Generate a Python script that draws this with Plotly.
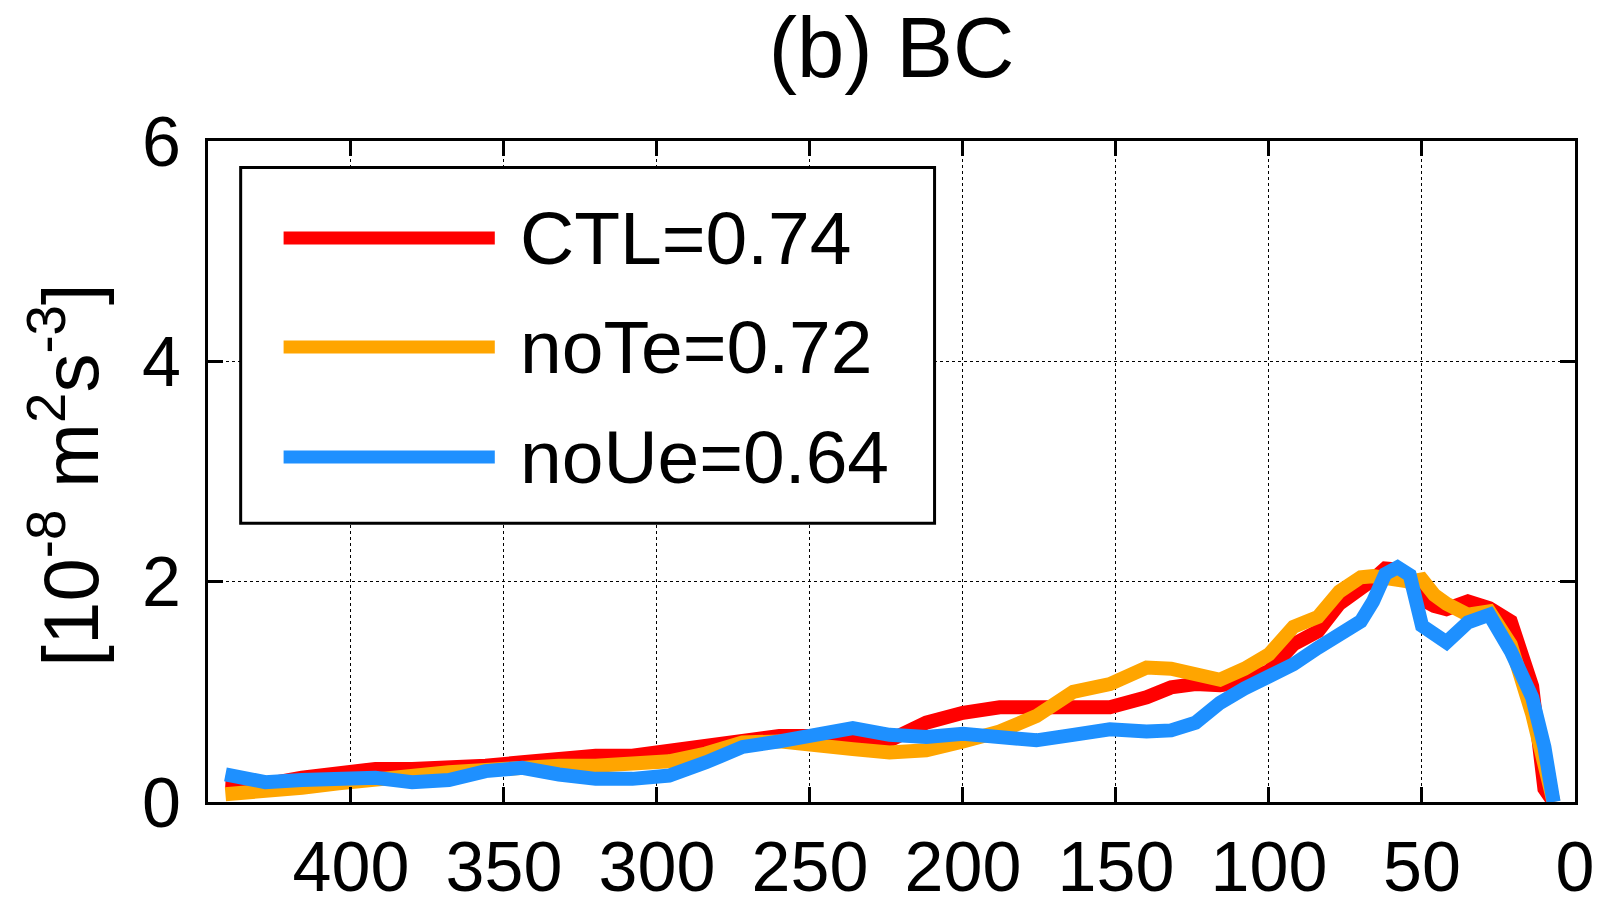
import plotly.graph_objects as go

# distance coordinate (axis runs from large to small, left to right)
dist = [441, 428, 416, 404, 392, 380, 368, 356, 344, 332, 320, 308, 296, 284,
        272, 260, 248, 236, 224, 212, 200, 188, 176, 164, 152, 140, 132, 124,
        116, 108, 100, 92, 84, 77, 70, 66, 62, 58, 54, 50, 46, 42, 35, 28, 21,
        14, 10, 7]

ctl = [0.18, 0.16, 0.22, 0.27, 0.30, 0.30, 0.30, 0.33, 0.36, 0.40, 0.42, 0.42,
       0.46, 0.52, 0.57, 0.60, 0.60, 0.58, 0.56, 0.72, 0.81, 0.86, 0.86, 0.83,
       0.86, 0.95, 1.04, 1.07, 1.06, 1.09, 1.19, 1.43, 1.55, 1.80, 1.92, 2.02,
       2.12, 2.11, 2.00, 1.84, 1.78, 1.75, 1.82, 1.76, 1.64, 1.05, 0.12, 0.0]

note = [0.07, 0.09, 0.13, 0.17, 0.21, 0.25, 0.27, 0.29, 0.32, 0.33, 0.33, 0.35,
        0.37, 0.44, 0.54, 0.55, 0.50, 0.48, 0.45, 0.47, 0.55, 0.64, 0.78, 1.00,
        1.07, 1.22, 1.21, 1.16, 1.11, 1.21, 1.34, 1.59, 1.68, 1.91, 2.04, 2.05,
        2.03, 2.00, 2.00, 2.02, 1.88, 1.80, 1.70, 1.73, 1.43, 0.80, 0.34, 0.0]

noue = [0.25, 0.18, 0.20, 0.22, 0.22, 0.18, 0.20, 0.28, 0.31, 0.25, 0.21, 0.21,
        0.24, 0.36, 0.50, 0.55, 0.62, 0.67, 0.61, 0.59, 0.62, 0.58, 0.56, 0.61,
        0.66, 0.64, 0.65, 0.72, 0.90, 1.03, 1.14, 1.25, 1.40, 1.52, 1.64, 1.82,
        2.07, 2.13, 2.06, 1.60, 1.52, 1.45, 1.63, 1.70, 1.37, 0.95, 0.50, 0.0]

names = ["CTL", "noTe", "noUe"]
scores = [0.74, 0.72, 0.64]
colors = ["#FF0000", "#FFA500", "#1E90FF"]
series = [ctl, note, noue]

x_ticks = [400, 350, 300, 250, 200, 150, 100, 50, 0]
y_ticks = [0, 2, 4, 6]

FONT = "Liberation Sans, Arial, Helvetica, sans-serif"

fig = go.Figure()
for name, ys, col in zip(names, series, colors):
    fig.add_trace(go.Scatter(x=dist, y=ys, mode="lines", name=name,
                             line=dict(color=col, width=14),
                             showlegend=False))

axis_common = dict(
    showline=True, linecolor="black", linewidth=3, mirror="ticks",
    ticks="inside", ticklen=15, tickwidth=3, tickcolor="black",
    showgrid=True, gridcolor="black", gridwidth=1, griddash="dot",
    zeroline=False, automargin=False,
    tickfont=dict(family=FONT, size=70, color="black"),
)

fig.update_xaxes(range=[446.7, 0], tickvals=x_ticks,
                 ticktext=[str(v) for v in x_ticks],
                 ticklabelstandoff=2, **axis_common)
fig.update_yaxes(range=[0, 6], tickvals=y_ticks,
                 ticktext=[str(v) for v in y_ticks],
                 ticklabelstandoff=10, **axis_common)

# legend box drawn in plot-area (paper) coordinates
shapes = [dict(type="rect", xref="paper", yref="paper",
               x0=0.0239, x1=0.5315, y0=0.4218, y1=0.960,
               line=dict(color="black", width=3), fillcolor="white",
               layer="above")]
annotations = []
row_y = [0.8532, 0.6883, 0.5218]
for name, sc, col, ry in zip(names, scores, colors, row_y):
    shapes.append(dict(type="line", xref="paper", yref="paper",
                       x0=0.0553, x1=0.2098, y0=ry, y1=ry,
                       line=dict(color=col, width=13), layer="above"))
    annotations.append(dict(xref="paper", yref="paper", x=0.2269, y=ry,
                            xanchor="left", yanchor="middle", showarrow=False,
                            text=f"{name}={sc:.2f}",
                            font=dict(family=FONT, size=75, color="black")))

# y-axis label
annotations.append(dict(xref="paper", yref="paper", x=-0.104, y=0.495,
                        xanchor="center", yanchor="middle", showarrow=False,
                        textangle=-90,
                        text="[10<sup>-8</sup> m<sup>2</sup>s<sup>-3</sup>]",
                        font=dict(family=FONT, size=78, color="black")))

fig.update_layout(
    width=1599, height=905,
    margin=dict(l=208, r=24, t=141, b=103),
    paper_bgcolor="white", plot_bgcolor="white",
    title=dict(text="(b) BC", x=0.5, xref="paper", xanchor="center",
               y=1 - 47 / 905, yref="container", yanchor="middle",
               font=dict(family=FONT, size=85, color="black")),
    shapes=shapes, annotations=annotations,
    showlegend=False,
)

fig.write_html("out.html")
